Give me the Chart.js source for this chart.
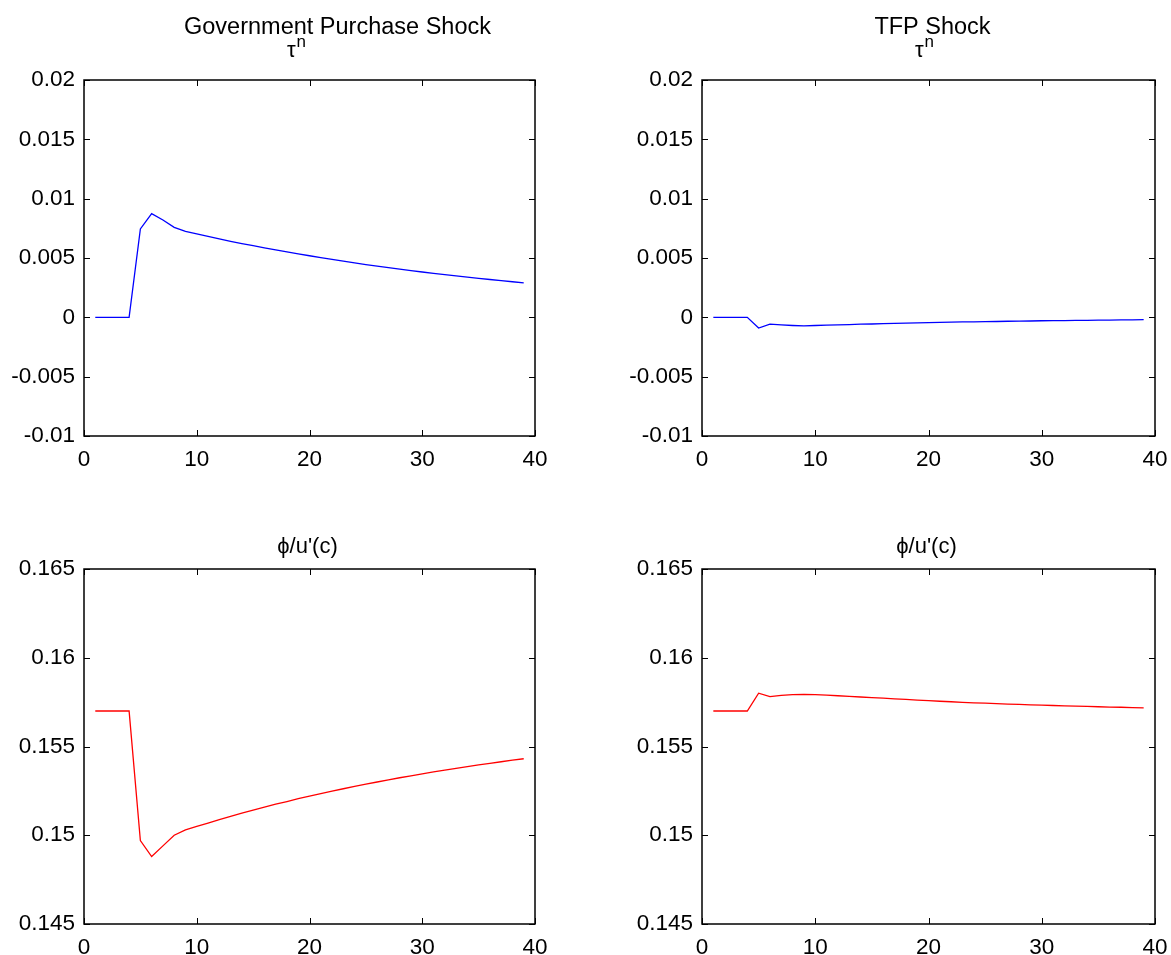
<!DOCTYPE html>
<html>
<head>
<meta charset="utf-8">
<script src="https://cdn.jsdelivr.net/npm/chart.js@4.4.1/dist/chart.umd.min.js"></script>
<style>
  body { margin: 0; background: #fff; }
  .panel { position: absolute; }
</style>
</head>
<body>
<div class="panel" style="left:0px;top:0px"><canvas id="govTau" width="575" height="476"></canvas></div>
<div class="panel" style="left:618px;top:0px"><canvas id="tfpTau" width="577" height="476"></canvas></div>
<div class="panel" style="left:0px;top:489px"><canvas id="govPhi" width="575" height="466"></canvas></div>
<div class="panel" style="left:618px;top:489px"><canvas id="tfpPhi" width="577" height="466"></canvas></div>
<script>
// impulse responses, periods 1..39
var periods = [1, 2, 3, 4, 5, 6, 7, 8, 9, 10, 11, 12, 13, 14, 15, 16, 17, 18, 19, 20,
               21, 22, 23, 24, 25, 26, 27, 28, 29, 30, 31, 32, 33, 34, 35, 36, 37, 38, 39];

// tau^n, government purchase shock
var govTau = [0, 0, 0, 0, 0.00745, 0.00874, 0.0082, 0.00758, 0.00724, 0.00703,
              0.00682, 0.00661, 0.00641, 0.00622, 0.00604, 0.00586, 0.00568, 0.00551, 0.00535, 0.00519,
              0.00503, 0.00488, 0.00473, 0.00459, 0.00445, 0.00432, 0.00419, 0.00406, 0.00394, 0.00382,
              0.00371, 0.0036, 0.00349, 0.00339, 0.00329, 0.00319, 0.00309, 0.003, 0.00291];

// tau^n, TFP shock
var tfpTau = [0, 0, 0, 0, -0.0009, -0.00058, -0.00064, -0.00069, -0.00072, -0.00069,
              -0.00066, -0.00063, -0.00061, -0.00058, -0.00056, -0.00053, -0.00051, -0.00049, -0.00047, -0.00045,
              -0.00043, -0.00041, -0.00039, -0.00038, -0.00036, -0.00035, -0.00033, -0.00032, -0.00031, -0.00029,
              -0.00028, -0.00027, -0.00026, -0.00025, -0.00024, -0.00023, -0.00022, -0.00021, -0.0002];

// phi/u'(c), government purchase shock
var govPhi = [0.157, 0.157, 0.157, 0.157, 0.1497, 0.1488, 0.1494, 0.15, 0.1503, 0.1505,
              0.15069, 0.15088, 0.15107, 0.15124, 0.15142, 0.15158, 0.15175, 0.1519, 0.15206, 0.1522,
              0.15235, 0.15249, 0.15262, 0.15275, 0.15288, 0.153, 0.15312, 0.15324, 0.15335, 0.15346,
              0.15357, 0.15367, 0.15377, 0.15387, 0.15396, 0.15405, 0.15414, 0.15423, 0.15431];

// phi/u'(c), TFP shock
var tfpPhi = [0.157, 0.157, 0.157, 0.157, 0.158, 0.15781, 0.15788, 0.15792, 0.15793, 0.15792,
              0.15789, 0.15786, 0.15782, 0.15779, 0.15775, 0.15772, 0.15768, 0.15765, 0.15761, 0.15758,
              0.15755, 0.15752, 0.15749, 0.15746, 0.15744, 0.15741, 0.15739, 0.15737, 0.15735, 0.15733,
              0.15731, 0.15729, 0.15727, 0.15726, 0.15724, 0.15722, 0.15721, 0.15719, 0.15718];

var xTicks = [0, 10, 20, 30, 40];
var xTickLabels = ['0', '10', '20', '30', '40'];
var tauTicks = [-0.01, -0.005, 0, 0.005, 0.01, 0.015, 0.02];
var tauTickLabels = ['-0.01', '-0.005', '0', '0.005', '0.01', '0.015', '0.02'];
var phiTicks = [0.145, 0.15, 0.155, 0.16, 0.165];
var phiTickLabels = ['0.145', '0.15', '0.155', '0.16', '0.165'];

Chart.defaults.font.family = '"Liberation Sans", Arial, sans-serif';
Chart.defaults.font.size = 22;
Chart.defaults.color = '#000';

// frame with inward ticks on all four sides, plus the panel titles
var panelDecor = {
    id: 'panelDecor',
    afterDraw: function(chart, args, opts) {
        var ctx = chart.ctx, a = chart.chartArea;
        var sx = chart.scales.x, sy = chart.scales.y;
        var tl = 6;
        ctx.save();
        ctx.strokeStyle = '#000';
        ctx.lineWidth = 1;
        ctx.beginPath();
        sx.ticks.forEach(function(t) {
            var px = Math.round(sx.getPixelForValue(t.value)) + 0.5;
            ctx.moveTo(px, a.bottom); ctx.lineTo(px, a.bottom - tl);
            ctx.moveTo(px, a.top); ctx.lineTo(px, a.top + tl);
        });
        sy.ticks.forEach(function(t) {
            var py = Math.round(sy.getPixelForValue(t.value)) + 0.5;
            ctx.moveTo(a.left, py); ctx.lineTo(a.left + tl, py);
            ctx.moveTo(a.right, py); ctx.lineTo(a.right - tl, py);
        });
        ctx.stroke();
        ctx.lineWidth = 1.5;
        ctx.strokeRect(a.left, a.top, a.right - a.left, a.bottom - a.top);

        ctx.fillStyle = '#000';
        ctx.textBaseline = 'alphabetic';
        var cx = (a.left + a.right) / 2;
        (opts.lines || []).forEach(function(l) {
            var font = (l.size || 22) + 'px "Liberation Sans", Arial, sans-serif';
            var supFont = '17px "Liberation Sans", Arial, sans-serif';
            ctx.font = font;
            var w = ctx.measureText(l.text).width;
            var sw = 0;
            if (l.sup) { ctx.font = supFont; sw = ctx.measureText(l.sup).width + 1; }
            var x0 = cx + l.dx - (w + sw) / 2;
            ctx.textAlign = 'left';
            ctx.font = font;
            ctx.fillText(l.text, x0, a.top + l.dy);
            if (l.sup) {
                ctx.font = supFont;
                ctx.fillText(l.sup, x0 + w + 1, a.top + l.dy - 10);
            }
        });
        ctx.restore();
    }
};

function makePanel(id, values, color, yTicks, yLabels, xHeight, titleLines) {
    var ctx = document.getElementById(id).getContext('2d');
    return new Chart(ctx, {
        type: 'line',
        data: {
            datasets: [{
                data: periods.map(function(p, i) { return { x: p, y: values[i] }; }),
                borderColor: color,
                borderWidth: 1.3,
                pointRadius: 0,
                tension: 0,
                fill: false
            }]
        },
        options: {
            responsive: false,
            animation: false,
            devicePixelRatio: 1,
            layout: { padding: { top: 80, right: 40, bottom: 0, left: 0 } },
            plugins: {
                legend: { display: false },
                tooltip: { enabled: false },
                panelDecor: { lines: titleLines }
            },
            scales: {
                x: {
                    type: 'linear',
                    min: 0,
                    max: 40,
                    grid: { display: false, drawTicks: false },
                    border: { display: false },
                    afterBuildTicks: function(s) { s.ticks = xTicks.map(function(v) { return { value: v }; }); },
                    afterFit: function(s) { s.height = xHeight; },
                    ticks: {
                        padding: 10,
                        maxRotation: 0,
                        font: { size: 22.5 },
                        callback: function(v, i) { return xTickLabels[i]; }
                    }
                },
                y: {
                    type: 'linear',
                    min: yTicks[0],
                    max: yTicks[yTicks.length - 1],
                    grid: { display: false, drawTicks: false },
                    border: { display: false },
                    afterBuildTicks: function(s) { s.ticks = yTicks.map(function(v) { return { value: v }; }); },
                    afterFit: function(s) { s.width = 84; },
                    ticks: {
                        padding: 9,
                        font: { size: 22.5 },
                        callback: function(v, i) { return yLabels[i]; }
                    }
                }
            }
        },
        plugins: [panelDecor]
    });
}

makePanel('govTau', govTau, '#0000ff', tauTicks, tauTickLabels, 40,
    [{ text: 'Government Purchase Shock', size: 23.5, dx: 28, dy: -46 }, { text: '\u03c4', sup: 'n', dx: -13, dy: -23 }]);
makePanel('tfpTau', tfpTau, '#0000ff', tauTicks, tauTickLabels, 40,
    [{ text: 'TFP Shock', size: 23.5, dx: 4, dy: -46 }, { text: '\u03c4', sup: 'n', dx: -4, dy: -23 }]);
makePanel('govPhi', govPhi, '#ff0000', phiTicks, phiTickLabels, 31,
    [{ text: '\u03d5/u\'(c)', dx: -2, dy: -16 }]);
makePanel('tfpPhi', tfpPhi, '#ff0000', phiTicks, phiTickLabels, 31,
    [{ text: '\u03d5/u\'(c)', dx: -2, dy: -16 }]);
</script>
</body>
</html>
